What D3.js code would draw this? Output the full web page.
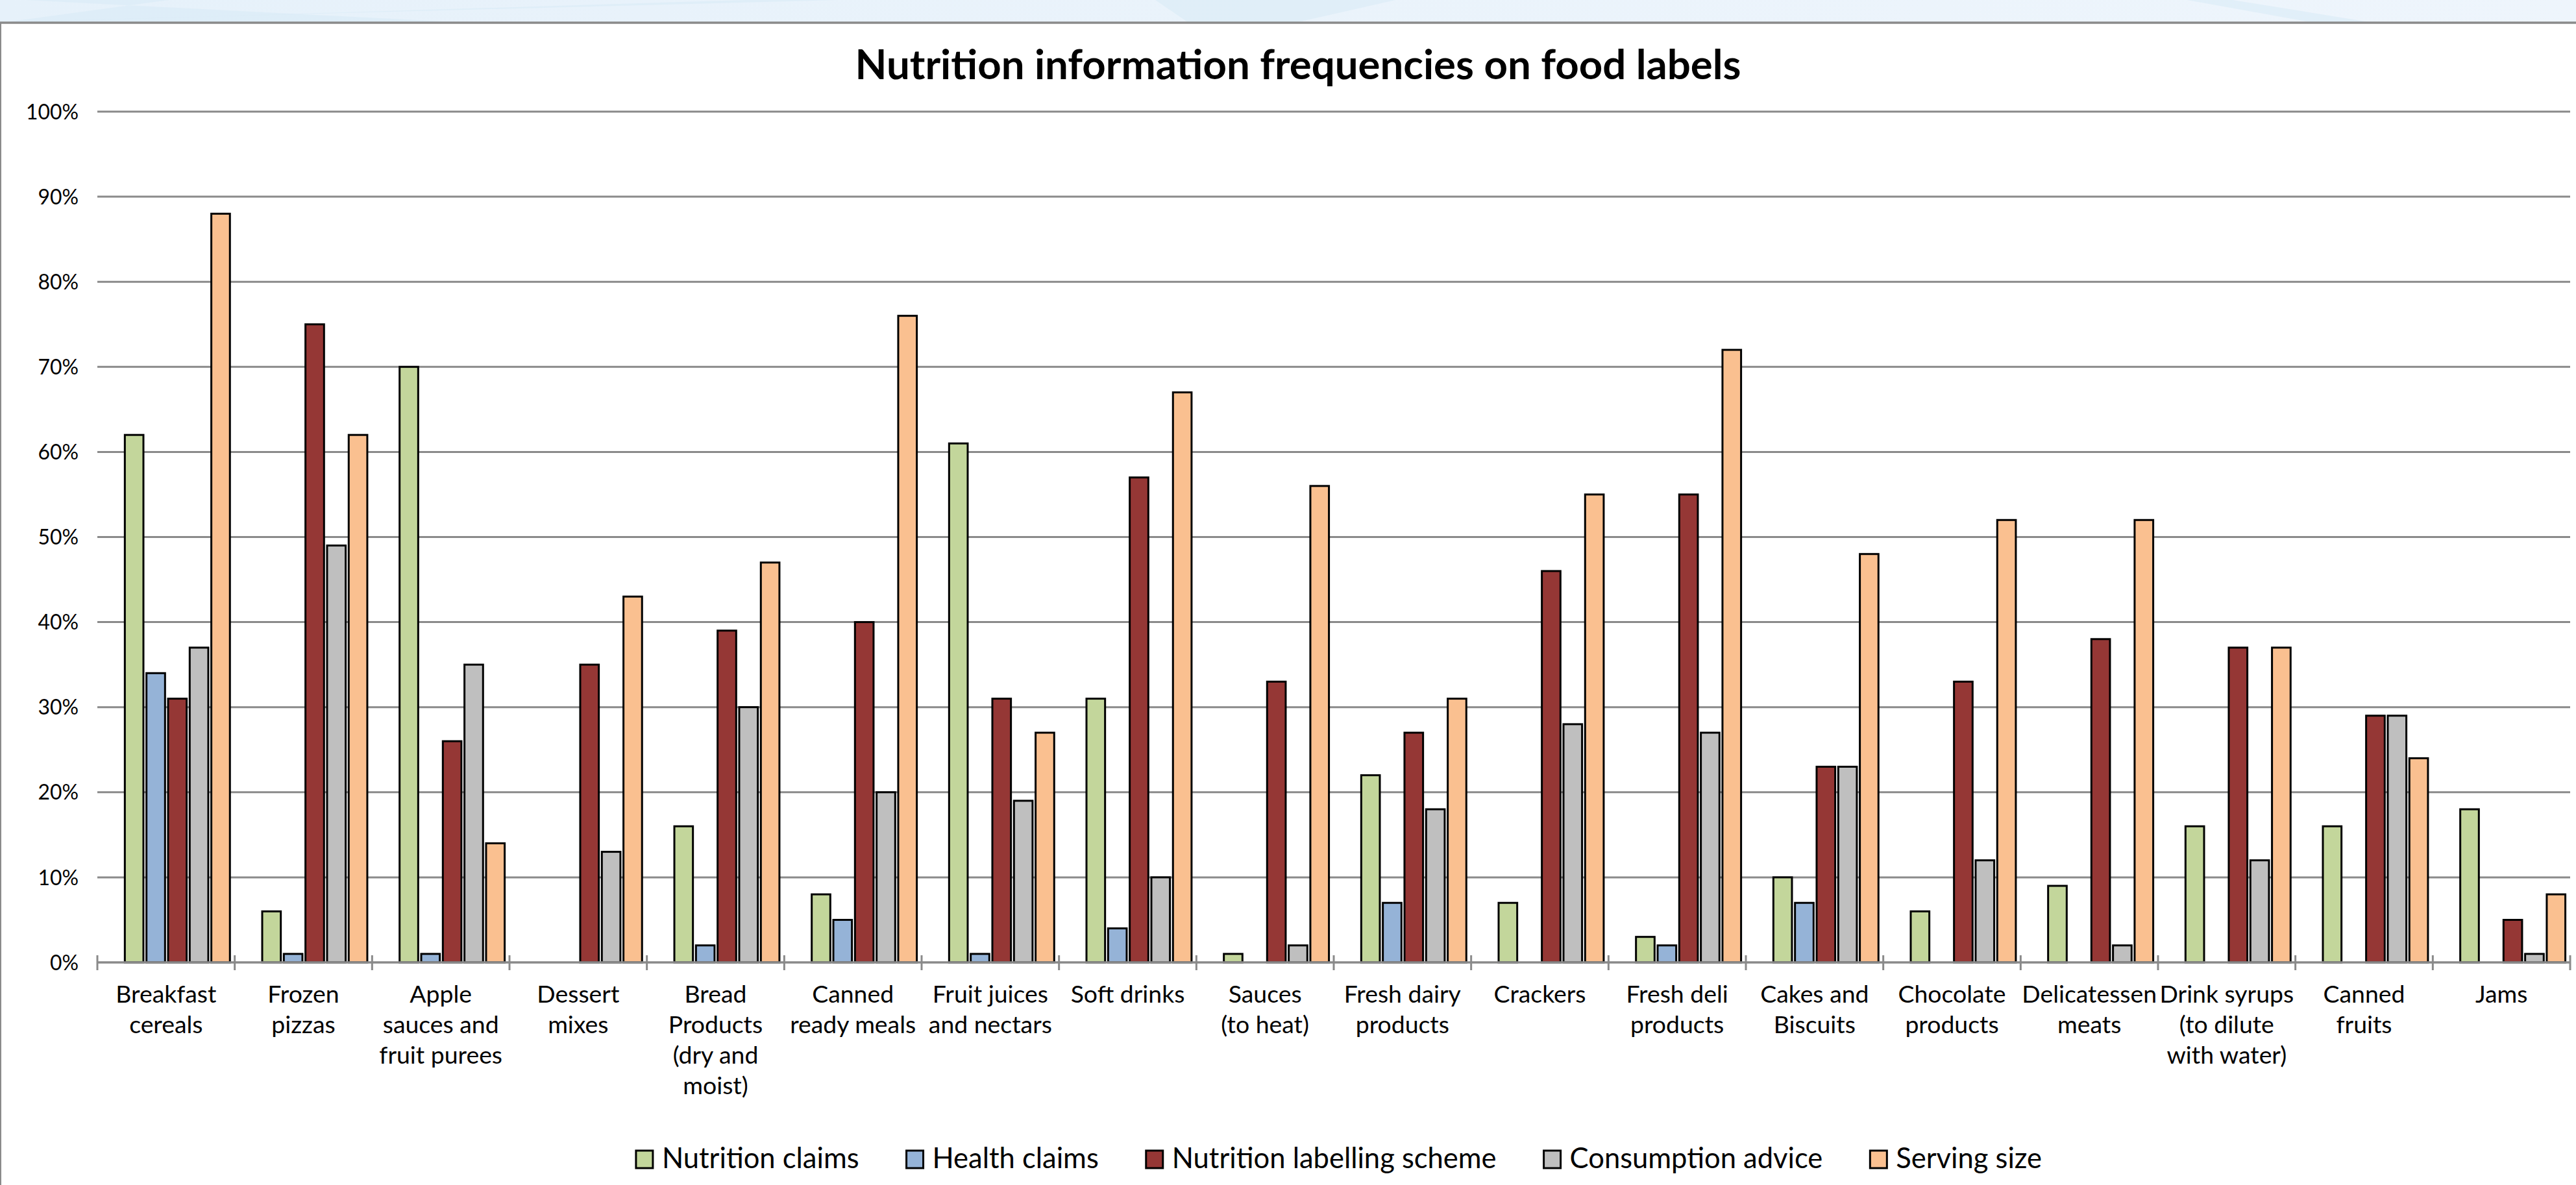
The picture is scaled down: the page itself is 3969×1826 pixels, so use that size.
<!DOCTYPE html>
<html>
<head>
<meta charset="utf-8">
<script src="https://cdn.jsdelivr.net/npm/d3@7"></script>
<style>
  body { margin: 0; background: #fff; }
  text { font-family: Lato, "Open Sans", sans-serif; fill: #000; }
</style>
</head>
<body>
<svg width="3969" height="1826"></svg>
<script>
// categories (line breaks as on the chart)
var categories = [
  "Breakfast\ncereals", "Frozen\npizzas", "Apple\nsauces and\nfruit purees", "Dessert\nmixes",
  "Bread\nProducts\n(dry and\nmoist)", "Canned\nready meals", "Fruit juices\nand nectars", "Soft drinks",
  "Sauces\n(to heat)", "Fresh dairy\nproducts", "Crackers", "Fresh deli\nproducts",
  "Cakes and\nBiscuits", "Chocolate\nproducts", "Delicatessen\nmeats", "Drink syrups\n(to dilute\nwith water)",
  "Canned\nfruits", "Jams"
];

var seriesNames = ["Nutrition claims", "Health claims", "Nutrition labelling scheme", "Consumption advice", "Serving size"];
var seriesColors = ["#c3d69b", "#95b3d7", "#953735", "#bfbfbf", "#fac090"];

// values in %
var nutritionClaims   = [62, 6, 70, 0, 16, 8, 61, 31, 1, 22, 7, 3, 10, 6, 9, 16, 16, 18];
var healthClaims      = [34, 1, 1, 0, 2, 5, 1, 4, 0, 7, 0, 2, 7, 0, 0, 0, 0, 0];
var labellingScheme   = [31, 75, 26, 35, 39, 40, 31, 57, 33, 27, 46, 55, 23, 33, 38, 37, 29, 5];
var consumptionAdvice = [37, 49, 35, 13, 30, 20, 19, 10, 2, 18, 28, 27, 23, 12, 2, 12, 29, 1];
var servingSize       = [88, 62, 14, 43, 47, 76, 27, 67, 56, 31, 55, 72, 48, 52, 52, 37, 24, 8];

var yTicks = [0, 0.1, 0.2, 0.3, 0.4, 0.5, 0.6, 0.7, 0.8, 0.9, 1];

var seriesValues = [nutritionClaims, healthClaims, labellingScheme, consumptionAdvice, servingSize];

var svg = d3.select("svg");
var W = 3969, H = 1826;

// measure helper to pick a font size giving a target width
function fitSize(txt, target, weight) {
  var t = svg.append("text").attr("font-size", 100).attr("font-weight", weight || "normal").text(txt);
  var w = t.node().getComputedTextLength();
  t.remove();
  return 100 * target / w;
}

// slide background strip at the top
var defs = svg.append("defs");
var grad = defs.append("linearGradient").attr("id", "topbg");
grad.append("stop").attr("offset", "0%").attr("stop-color", "#e6f1fa");
grad.append("stop").attr("offset", "100%").attr("stop-color", "#eef5fc");
svg.append("rect").attr("x", 0).attr("y", 0).attr("width", W).attr("height", 34).attr("fill", "url(#topbg)");
[[40, 260, 700, 10], [1150, 1290, 40, 0], [1780, 2150, 1830, 2000], [3370, 3440, 3560, 3650]].forEach(function(p) {
  svg.append("polygon")
    .attr("points", p[0] + ",0 " + p[1] + ",0 " + p[3] + ",34 " + p[2] + ",34")
    .attr("fill", "#d9ebf7").attr("opacity", 0.6);
});
svg.append("line").attr("x1", 0).attr("x2", W).attr("y1", 35).attr("y2", 35)
  .attr("stroke", "#8a8a8a").attr("stroke-width", 3.5);
svg.append("line").attr("x1", 1).attr("x2", 1).attr("y1", 35).attr("y2", H)
  .attr("stroke", "#8a8a8a").attr("stroke-width", 2);

// scales
var x = d3.scaleBand().domain(d3.range(categories.length)).range([150, 3960]).padding(0);
var bw = x.bandwidth();
var xs = d3.scaleBand().domain(d3.range(seriesNames.length))
  .range([bw * 0.2, bw * 0.965]).paddingInner(0.14).paddingOuter(0);
var y = d3.scaleLinear().domain([0, 1]).range([1483, 172]);

// title
var titleText = "Nutrition information frequencies on food labels";
svg.append("text")
  .attr("x", 2000).attr("y", 122)
  .attr("text-anchor", "middle")
  .attr("font-weight", "bold")
  .attr("font-size", fitSize(titleText, 1365, "bold"))
  .text(titleText);

// gridlines
svg.append("g").selectAll("line")
  .data(yTicks.slice(1))
  .enter().append("line")
  .attr("x1", 150).attr("x2", 3960)
  .attr("y1", function(d) { return y(d); })
  .attr("y2", function(d) { return y(d); })
  .attr("stroke", "#8a8a8a").attr("stroke-width", 3);

// y axis labels
var ySize = fitSize("100%", 81);
var yAxis = svg.append("g")
  .attr("transform", "translate(121,0)")
  .call(d3.axisLeft(y).tickValues(yTicks).tickFormat(d3.format(".0%")).tickSize(0).tickPadding(0));
yAxis.select(".domain").remove();
yAxis.selectAll("text")
  .attr("font-size", ySize)
  .attr("font-family", "Lato, sans-serif")
  .attr("dy", "0.35em");

// bars
var groups = svg.append("g").selectAll("g")
  .data(categories)
  .enter().append("g")
  .attr("transform", function(d, i) { return "translate(" + x(i) + ",0)"; });

groups.selectAll("rect")
  .data(function(d, i) {
    return seriesValues.map(function(s, j) { return { s: j, v: s[i] / 100 }; })
      .filter(function(e) { return e.v > 0; });
  })
  .enter().append("rect")
  .attr("x", function(d) { return xs(d.s); })
  .attr("width", xs.bandwidth())
  .attr("y", function(d) { return y(d.v); })
  .attr("height", function(d) { return y(0) - y(d.v); })
  .attr("fill", function(d) { return seriesColors[d.s]; })
  .attr("stroke", "#000").attr("stroke-width", 3);

// x axis line with crossing ticks
svg.append("line")
  .attr("x1", 150).attr("x2", 3960).attr("y1", y(0)).attr("y2", y(0))
  .attr("stroke", "#8a8a8a").attr("stroke-width", 3.5);
var boundaries = d3.range(categories.length + 1).map(function(i) { return 150 + i * bw; });
svg.append("g").selectAll("line")
  .data(boundaries)
  .enter().append("line")
  .attr("x1", function(d) { return d; }).attr("x2", function(d) { return d; })
  .attr("y1", y(0) - 11).attr("y2", y(0) + 12)
  .attr("stroke", "#8a8a8a").attr("stroke-width", 3);

// category labels
var catSize = fitSize("Delicatessen", 208);
var labels = svg.append("g").selectAll("text")
  .data(categories)
  .enter().append("text")
  .attr("text-anchor", "middle")
  .attr("font-size", catSize)
  .attr("transform", function(d, i) { return "translate(" + (x(i) + bw / 2) + ",1545)"; });
labels.selectAll("tspan")
  .data(function(d) { return d.split("\n"); })
  .enter().append("tspan")
  .attr("x", 0)
  .attr("y", function(d, k) { return k * 47; })
  .text(function(d) { return d; });

// legend
var legSize = fitSize("Nutrition labelling scheme", 500);
var legend = svg.append("g");
var cursor = 0;
var items = [];
seriesNames.forEach(function(name, i) {
  var g = legend.append("g");
  g.append("rect")
    .attr("x", 0).attr("y", -27).attr("width", 26).attr("height", 27)
    .attr("fill", seriesColors[i]).attr("stroke", "#000").attr("stroke-width", 3);
  var t = g.append("text").attr("x", 40).attr("y", 0).attr("font-size", legSize).text(name);
  var w = 40 + t.node().getComputedTextLength();
  g.attr("transform", "translate(" + cursor + ",1800)");
  cursor += w + 73;
});
var legendWidth = cursor - 73;
legend.attr("transform", "translate(" + (2063 - legendWidth / 2) + ",0)");
</script>
</body>
</html>
